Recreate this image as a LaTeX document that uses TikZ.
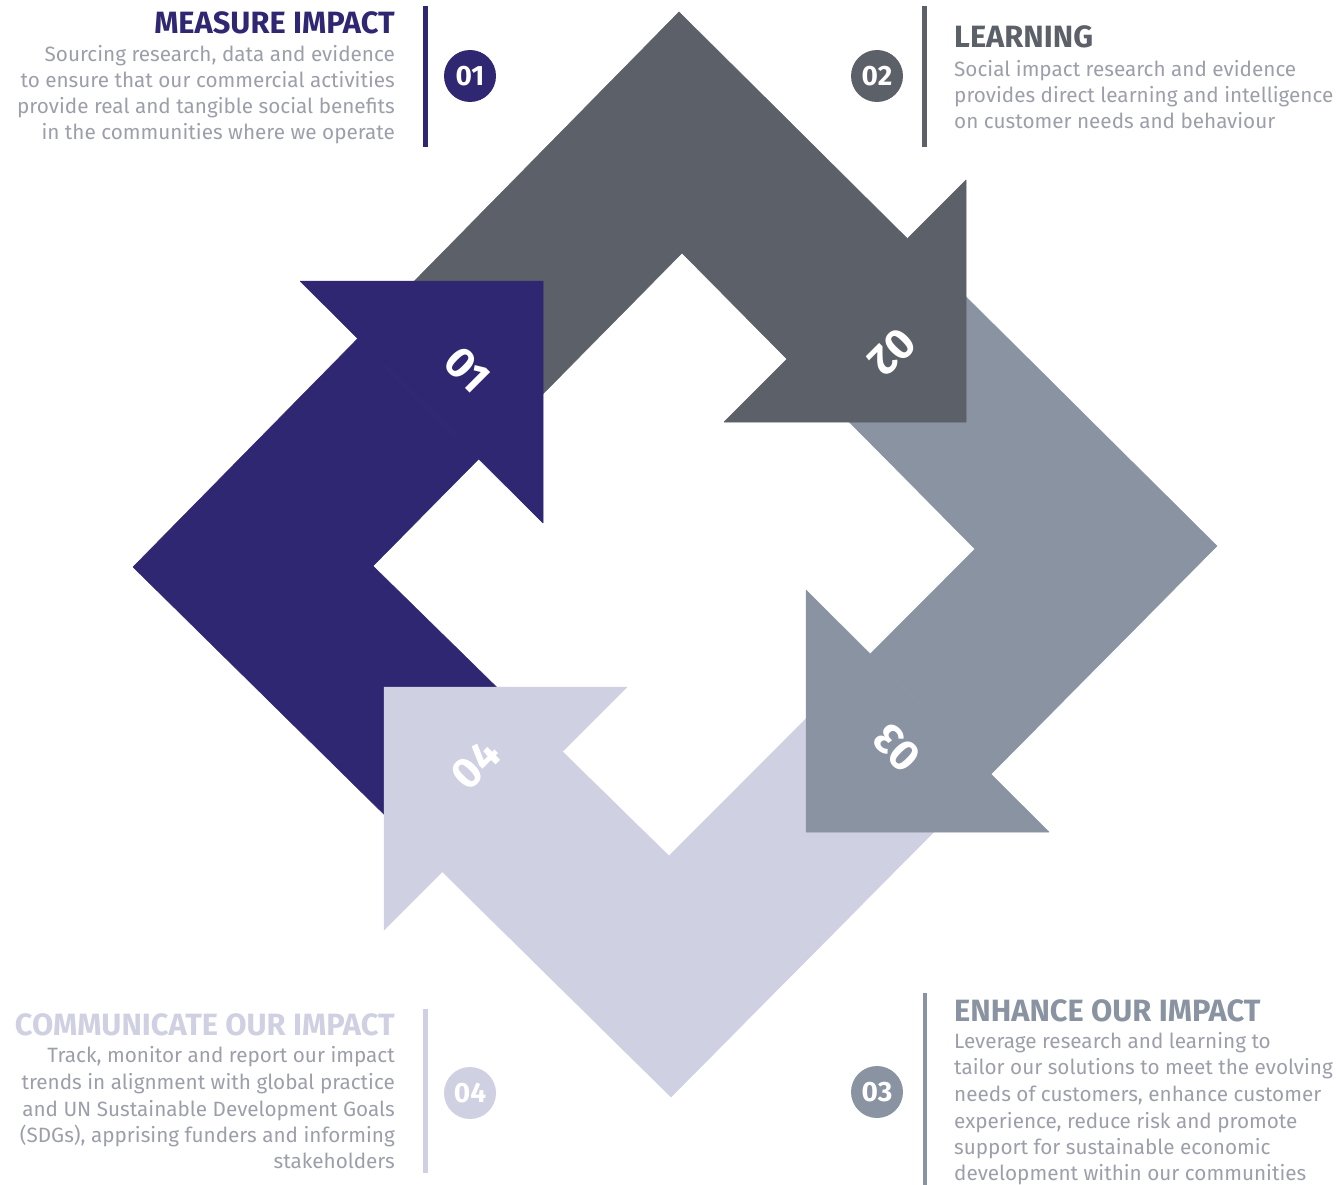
\documentclass[tikz,border=0pt]{standalone}
\usepackage{fontspec}
\setmainfont{Fira Sans}
\usetikzlibrary{calc}
\definecolor{cpurple}{HTML}{2F2771}
\definecolor{cdark}{HTML}{5C6069}
\definecolor{cblue}{HTML}{8A93A1}
\definecolor{clav}{HTML}{CFD0E2}
\definecolor{ctext}{HTML}{9C9FA9}
\begin{document}
\begin{tikzpicture}[x=1pt,y=-1pt,
  piece/.style={line width=0.5pt, line join=round},
  body/.style={font=\fontsize{20.7}{24}\selectfont, text=ctext, inner sep=0pt},
  title/.style={font=\fontsize{30.8}{34}\selectfont\bfseries, inner sep=0pt},
  numdisc/.style={circle, minimum size=52pt, inner sep=0pt, text=white, font=\fontsize{28}{30}\selectfont\bfseries},
  arrnum/.style={text=white, font=\fontsize{43}{46}\selectfont\bfseries, inner sep=0pt},
  sidebar/.style={line width=4.8pt}]
\useasboundingbox (0,0) rectangle (1336,1185);
% diamond ring vertices
\coordinate (OT) at (679,12);
\coordinate (OR) at (1217,546);
\coordinate (OB) at (671,1097);
\coordinate (OL) at (133,567);
\coordinate (IT) at (682,253);
\coordinate (IR) at (975,549);
\coordinate (IB) at (669,856);
\coordinate (IL) at (373,566);
% arrow heads: tip T, barbs A and B
\coordinate (T1) at (543,281); \coordinate (A1) at (300,281); \coordinate (B1) at (543,523);
\coordinate (T2) at (966,422); \coordinate (A2) at (966,180); \coordinate (B2) at (724,422);
\coordinate (T3) at (806,832); \coordinate (A3) at (806,590); \coordinate (B3) at (1049,832);
\coordinate (T4) at (384,687); \coordinate (A4) at (627,687); \coordinate (B4) at (384,930);
% hidden cut lines inside each head
\foreach \i in {1,2,3,4}{
  \coordinate (CA\i) at ($(A\i)!0.33!(T\i)$);
  \coordinate (CB\i) at ($(B\i)!0.33!(T\i)$);
}
% band 02 (upper left -> upper right)
\coordinate (X2o) at (intersection cs: first line={(OL)--(OT)}, second line={(CA1)--(CB1)});
\coordinate (X2i) at (intersection cs: first line={(IL)--(IT)}, second line={(CA1)--(CB1)});
\coordinate (N2o) at (intersection cs: first line={(OT)--(OR)}, second line={(A2)--(B2)});
\coordinate (N2i) at (intersection cs: first line={(IT)--(IR)}, second line={(A2)--(B2)});
% band 03
\coordinate (X3o) at (intersection cs: first line={(OT)--(OR)}, second line={(CA2)--(CB2)});
\coordinate (X3i) at (intersection cs: first line={(IT)--(IR)}, second line={(CA2)--(CB2)});
\coordinate (N3o) at (intersection cs: first line={(OR)--(OB)}, second line={(A3)--(B3)});
\coordinate (N3i) at (intersection cs: first line={(IR)--(IB)}, second line={(A3)--(B3)});
% band 04
\coordinate (X4o) at (intersection cs: first line={(OR)--(OB)}, second line={(CA3)--(CB3)});
\coordinate (X4i) at (intersection cs: first line={(IR)--(IB)}, second line={(CA3)--(CB3)});
\coordinate (N4o) at (intersection cs: first line={(OB)--(OL)}, second line={(A4)--(B4)});
\coordinate (N4i) at (intersection cs: first line={(IB)--(IL)}, second line={(A4)--(B4)});
% band 01
\coordinate (X1o) at (intersection cs: first line={(OB)--(OL)}, second line={(CA4)--(CB4)});
\coordinate (X1i) at (intersection cs: first line={(IB)--(IL)}, second line={(CA4)--(CB4)});
\coordinate (N1o) at (intersection cs: first line={(OL)--(OT)}, second line={(A1)--(B1)});
\coordinate (N1i) at (intersection cs: first line={(IL)--(IT)}, second line={(A1)--(B1)});
% bands
\filldraw[piece, cdark]   (X2o) -- (OT) -- (N2o) -- (N2i) -- (IT) -- (X2i) -- cycle;
\filldraw[piece, cblue]   (X3o) -- (OR) -- (N3o) -- (N3i) -- (IR) -- (X3i) -- cycle;
\filldraw[piece, clav]    (X4o) -- (OB) -- (N4o) -- (N4i) -- (IB) -- (X4i) -- cycle;
\filldraw[piece, cpurple] (X1o) -- (OL) -- (N1o) -- (N1i) -- (IL) -- (X1i) -- cycle;
% heads
\filldraw[piece, cpurple] (A1) -- (T1) -- (B1) -- cycle;
\filldraw[piece, cdark]   (A2) -- (T2) -- (B2) -- cycle;
\filldraw[piece, cblue]   (A3) -- (T3) -- (B3) -- cycle;
\filldraw[piece, clav]    (A4) -- (T4) -- (B4) -- cycle;
% numbers on arrows
\node[arrnum, rotate=-45]  (an1) at (467,370) {01};
\node[arrnum, rotate=-135] (an2) at (892,352) {02};
\node[arrnum, rotate=135]  (an3) at (897,748) {03};
\node[arrnum, rotate=45]   (an4) at (476,765) {04};
% side bars
\coordinate (s1t) at (425.5,6);    \coordinate (s1b) at (425.5,147);
\coordinate (s2t) at (924.5,6);    \coordinate (s2b) at (924.5,147);
\coordinate (s4t) at (425.5,1009); \coordinate (s4b) at (425.5,1173);
\coordinate (s3t) at (925,993);    \coordinate (s3b) at (925,1185);
\draw[sidebar, cpurple] (s1t) -- (s1b);
\draw[sidebar, cdark]   (s2t) -- (s2b);
\draw[sidebar, clav]    (s4t) -- (s4b);
\draw[sidebar, cblue]   (s3t) -- (s3b);
% discs
\node[numdisc, fill=cpurple] (d1) at (470,76) {01};
\node[numdisc, fill=cdark]   (d2) at (877,76) {02};
\node[numdisc, fill=clav]    (d4) at (470,1093) {04};
\node[numdisc, fill=cblue]   (d3) at (877,1092) {03};
% block 01
\node[title, text=cpurple, anchor=base east] (h1) at (395,34) {MEASURE IMPACT};
\node[body, anchor=base east] (p1a) at (395,62) {Sourcing research, data and evidence};
\node[body, anchor=base east] (p1b) at (395,88) {to ensure that our commercial activities};
\node[body, anchor=base east] (p1c) at (395,114) {provide real and tangible social benefits};
\node[body, anchor=base east] (p1d) at (395,140) {in the communities where we operate};
% block 02
\node[title, text=cdark, anchor=base west] (h2) at (954,48) {LEARNING};
\node[body, anchor=base west] (p2a) at (954,77) {Social impact research and evidence};
\node[body, anchor=base west] (p2b) at (954,103) {provides direct learning and intelligence};
\node[body, anchor=base west] (p2c) at (954,129) {on customer needs and behaviour};
% block 04
\node[title, text=clav, anchor=base east] (h4) at (395,1035) {COMMUNICATE OUR IMPACT};
\node[body, anchor=base east] (p4a) at (395,1062) {Track, monitor and report our impact};
\node[body, anchor=base east] (p4b) at (395,1089) {trends in alignment with global practice};
\node[body, anchor=base east] (p4c) at (395,1116) {and UN Sustainable Development Goals};
\node[body, anchor=base east] (p4d) at (395,1142) {(SDGs), apprising funders and informing};
\node[body, anchor=base east] (p4e) at (395,1168) {stakeholders};
% block 03
\node[title, text=cblue, anchor=base west] (h3) at (954,1021) {ENHANCE OUR IMPACT};
\node[body, anchor=base west] (p3a) at (954,1048) {Leverage research and learning to};
\node[body, anchor=base west] (p3b) at (954,1074) {tailor our solutions to meet the evolving};
\node[body, anchor=base west] (p3c) at (954,1101) {needs of customers, enhance customer};
\node[body, anchor=base west] (p3d) at (954,1128) {experience, reduce risk and promote};
\node[body, anchor=base west] (p3e) at (954,1154) {support for sustainable economic};
\node[body, anchor=base west] (p3f) at (954,1180) {development within our communities};
\end{tikzpicture}
\end{document}
